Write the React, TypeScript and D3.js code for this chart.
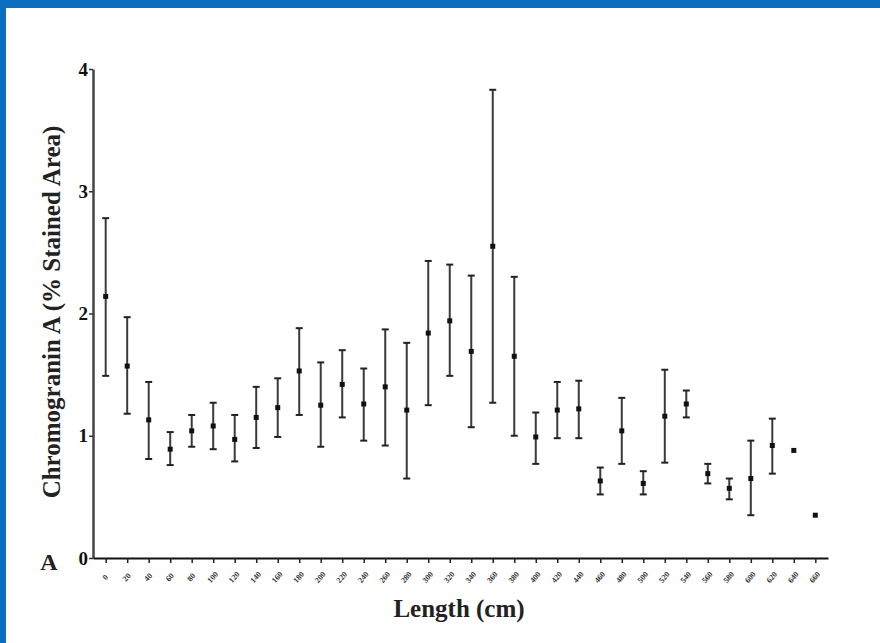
import React, { useEffect, useRef } from "react";
import * as d3 from "d3";

// lengths along the gut (cm)
const lengths = [
  0, 20, 40, 60, 80, 100, 120, 140, 160, 180, 200, 220, 240, 260, 280, 300, 320,
  340, 360, 380, 400, 420, 440, 460, 480, 500, 520, 540, 560, 580, 600, 620, 640, 660,
];
// mean % stained area
const means = [
  2.14, 1.57, 1.13, 0.89, 1.04, 1.08, 0.97, 1.15, 1.23, 1.53, 1.25, 1.42, 1.26, 1.4, 1.21, 1.84, 1.94,
  1.69, 2.55, 1.65, 0.99, 1.21, 1.22, 0.63, 1.04, 0.61, 1.16, 1.26, 0.69, 0.57, 0.65, 0.92, 0.88, 0.35,
];
// upper end of error bar (null = no bar)
const uppers: (number | null)[] = [
  2.78, 1.97, 1.44, 1.03, 1.17, 1.27, 1.17, 1.4, 1.47, 1.88, 1.6, 1.7, 1.55, 1.87, 1.76, 2.43, 2.4,
  2.31, 3.83, 2.3, 1.19, 1.44, 1.45, 0.74, 1.31, 0.71, 1.54, 1.37, 0.77, 0.65, 0.96, 1.14, null, null,
];
// lower end of error bar
const lowers: (number | null)[] = [
  1.49, 1.18, 0.81, 0.76, 0.91, 0.89, 0.79, 0.9, 0.99, 1.17, 0.91, 1.15, 0.96, 0.92, 0.65, 1.25, 1.49,
  1.07, 1.27, 1.0, 0.77, 0.98, 0.98, 0.52, 0.77, 0.52, 0.78, 1.15, 0.61, 0.48, 0.35, 0.69, null, null,
];
const yTicks = [0, 1, 2, 3, 4];

export default function App() {
  const svgRef = useRef<SVGSVGElement>(null);

  useEffect(() => {
    if (!svgRef.current) return;
    const svg = d3.select(svgRef.current);
    svg.selectAll("*").remove();

    const serif = "'Liberation Serif', 'Times New Roman', serif";

    // page frame
    svg.append("rect").attr("width", 880).attr("height", 643).attr("fill", "#fff");
    svg.append("rect").attr("width", 880).attr("height", 8).attr("fill", "#0a6dbd");
    svg.append("rect").attr("width", 6).attr("height", 643).attr("fill", "#0a6dbd");

    const left = 93, right = 828, top = 69, bottom = 558;

    const x = d3.scalePoint<number>().domain(lengths).range([left, right]).padding(0.59);
    const y = d3.scaleLinear().domain([0, 4]).range([bottom, top]);

    const data = lengths.map((l, i) => ({ l, m: means[i], hi: uppers[i], lo: lowers[i] }));

    // y axis
    const yAxis = svg.append("g").attr("transform", `translate(${left},0)`)
      .call(d3.axisLeft(y).tickValues(yTicks).tickFormat(d3.format("d")).tickSize(4).tickSizeOuter(0));
    yAxis.select(".domain").attr("stroke", "#444").attr("stroke-width", 2.5);
    yAxis.selectAll(".tick line").attr("stroke", "#333").attr("stroke-width", 1.5);
    yAxis.selectAll(".tick text")
      .attr("font-family", serif).attr("font-weight", "bold").attr("font-size", 19)
      .attr("fill", "#111").attr("x", -5);

    // x axis
    const xAxis = svg.append("g").attr("transform", `translate(0,${bottom})`)
      .call(d3.axisBottom(x).tickSize(5).tickSizeOuter(0));
    xAxis.select(".domain").attr("stroke", "#111").attr("stroke-width", 2);
    xAxis.selectAll(".tick line").attr("stroke", "#222").attr("stroke-width", 1.5);
    xAxis.selectAll(".tick text")
      .attr("font-family", serif).attr("font-weight", "bold").attr("font-size", 8)
      .attr("fill", "#333")
      .attr("y", 0).attr("dy", 0)
      .attr("text-anchor", "middle")
      .attr("transform", "translate(1,21) rotate(-50)");

    // error bars
    const bars = data.filter((d) => d.hi != null && d.lo != null);
    svg.append("g").selectAll("line").data(bars).join("line")
      .attr("x1", (d) => x(d.l)!).attr("x2", (d) => x(d.l)!)
      .attr("y1", (d) => y(d.hi!)).attr("y2", (d) => y(d.lo!))
      .attr("stroke", "#3a3a3a").attr("stroke-width", 2);
    const caps = bars.flatMap((d) => [{ l: d.l, v: d.hi! }, { l: d.l, v: d.lo! }]);
    svg.append("g").selectAll("line").data(caps).join("line")
      .attr("x1", (d) => x(d.l)! - 3.5).attr("x2", (d) => x(d.l)! + 3.5)
      .attr("y1", (d) => y(d.v)).attr("y2", (d) => y(d.v))
      .attr("stroke", "#222").attr("stroke-width", 2);

    // means
    svg.append("g").selectAll("rect").data(data).join("rect")
      .attr("x", (d) => x(d.l)! - 2.5).attr("y", (d) => y(d.m) - 2.5)
      .attr("width", 5).attr("height", 5).attr("fill", "#111");

    // labels
    svg.append("text")
      .attr("transform", `translate(60,312) rotate(-90)`)
      .attr("text-anchor", "middle")
      .attr("font-family", serif).attr("font-weight", "bold").attr("font-size", 25)
      .attr("fill", "#222")
      .text("Chromogranin A (% Stained Area)");
    svg.append("text")
      .attr("x", 459).attr("y", 617)
      .attr("text-anchor", "middle")
      .attr("font-family", serif).attr("font-weight", "bold").attr("font-size", 25)
      .attr("fill", "#222")
      .text("Length (cm)");
    svg.append("text")
      .attr("x", 49).attr("y", 570)
      .attr("text-anchor", "middle")
      .attr("font-family", serif).attr("font-weight", "bold").attr("font-size", 24)
      .attr("fill", "#222")
      .text("A");
  }, []);

  return (
    <div style={{ position: "absolute", left: 0, top: 0 }}>
      <svg ref={svgRef} width={880} height={643} style={{ display: "block" }} />
    </div>
  );
}
